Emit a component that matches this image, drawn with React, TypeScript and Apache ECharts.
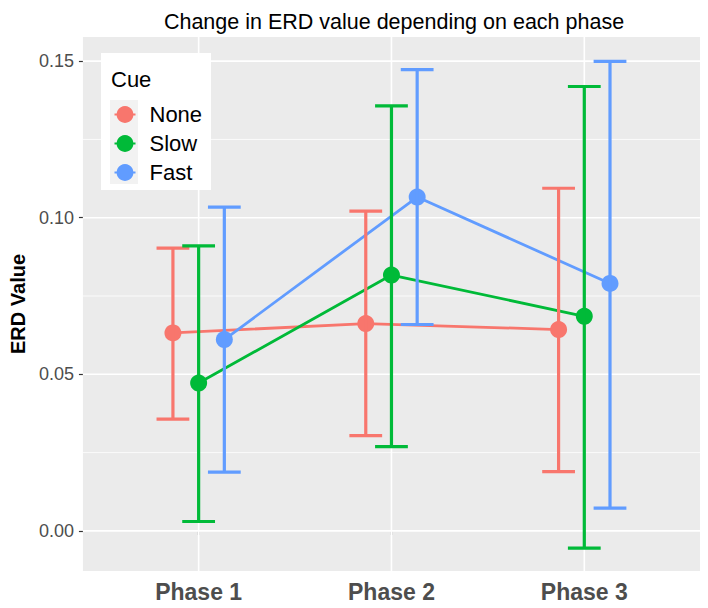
import React, { useEffect, useRef } from "react";
import * as echarts from "echarts";

const phases = ["Phase 1", "Phase 2", "Phase 3"];
const cues = ["None", "Slow", "Fast"];
const noneMean = [0.0632, 0.0662, 0.0643];
const noneLower = [0.0357, 0.0304, 0.0189];
const noneUpper = [0.0903, 0.1021, 0.1094];
const slowMean = [0.0472, 0.0817, 0.0685];
const slowLower = [0.003, 0.0269, -0.0055];
const slowUpper = [0.091, 0.1357, 0.1419];
const fastMean = [0.0611, 0.1066, 0.079];
const fastLower = [0.0188, 0.0659, 0.0073];
const fastUpper = [0.1034, 0.1473, 0.1499];
const yTicks = [0, 0.05, 0.1, 0.15];
const yMinor = [0.025, 0.075, 0.125];

const colors = ["#F8766D", "#00BA38", "#619CFF"];
const dodge = [-0.1333, 0, 0.1333];
const capHalf = 0.085;
const FONT = "'Liberation Sans', Arial, Helvetica, sans-serif";

export default function App() {
  const ref = useRef<HTMLDivElement>(null);
  useEffect(() => {
    if (!ref.current) return;
    const chart = echarts.init(ref.current, null, { renderer: "svg" });
    const groups = [
      { mean: noneMean, lo: noneLower, hi: noneUpper },
      { mean: slowMean, lo: slowLower, hi: slowUpper },
      { mean: fastMean, lo: fastLower, hi: fastUpper },
    ];
    const gridData: number[][] = [
      ...yTicks.map((v) => [1, v, 0]),
      ...yMinor.map((v) => [1, v, 1]),
      ...phases.map((_, i) => [i + 1, 0, 2]),
    ];
    const series: any[] = [
      {
        type: "custom",
        name: "grid",
        z: 1,
        silent: true,
        data: gridData,
        encode: { x: 0, y: 1 },
        renderItem: (params: any, api: any) => {
          const cs = params.coordSys;
          const kind = api.value(2);
          if (kind === 2) {
            const x = api.coord([api.value(0), 0])[0];
            return {
              type: "line",
              shape: { x1: x, y1: cs.y, x2: x, y2: cs.y + cs.height },
              style: { stroke: "#FFFFFF", lineWidth: 1.6 },
            };
          }
          const y = api.coord([1, api.value(1)])[1];
          return {
            type: "line",
            shape: { x1: cs.x, y1: y, x2: cs.x + cs.width, y2: y },
            style: { stroke: "#FFFFFF", lineWidth: kind === 0 ? 1.6 : 0.8 },
          };
        },
      },
    ];
    groups.forEach((g, gi) => {
      series.push({
        type: "line",
        name: cues[gi],
        z: 2,
        data: phases.map((_, i) => [i + 1 + dodge[gi], g.mean[i]]),
        symbol: "circle",
        symbolSize: 17,
        showAllSymbol: true,
        itemStyle: { color: colors[gi] },
        lineStyle: { color: colors[gi], width: 2.8 },
      });
    });
    groups.forEach((g, gi) => {
      series.push({
        type: "custom",
        name: cues[gi] + " error",
        z: 3,
        silent: true,
        data: phases.map((_, i) => [i + 1 + dodge[gi], g.lo[i], g.hi[i]]),
        encode: { x: 0, y: [1, 2] },
        renderItem: (params: any, api: any) => {
          const x = api.value(0);
          const lo = api.value(1);
          const hi = api.value(2);
          const pLo = api.coord([x, lo]);
          const pHi = api.coord([x, hi]);
          const l = api.coord([x - capHalf, lo])[0];
          const r = api.coord([x + capHalf, lo])[0];
          const st = { stroke: colors[gi], lineWidth: 3.2 };
          return {
            type: "group",
            children: [
              { type: "line", shape: { x1: pLo[0], y1: pLo[1], x2: pHi[0], y2: pHi[1] }, style: st },
              { type: "line", shape: { x1: l, y1: pHi[1], x2: r, y2: pHi[1] }, style: st },
              { type: "line", shape: { x1: l, y1: pLo[1], x2: r, y2: pLo[1] }, style: st },
            ],
          };
        },
      });
    });

    chart.setOption({
      animation: false,
      backgroundColor: "#FFFFFF",
      title: {
        text: "Change in ERD value depending on each phase",
        left: 389,
        top: 6,
        textAlign: "center",
        textStyle: { fontFamily: FONT, fontSize: 21.5, fontWeight: "normal", color: "#000000" },
      },
      grid: {
        left: 82,
        right: 8,
        top: 37,
        bottom: 37,
        show: true,
        backgroundColor: "#EBEBEB",
        borderWidth: 0,
      },
      xAxis: {
        type: "value",
        min: 0.4,
        max: 3.6,
        axisLine: { show: false },
        splitLine: { show: false },
        axisTick: { show: true, length: 4, customValues: [1, 2, 3], lineStyle: { color: "#333333", width: 1.2 } },
        axisLabel: {
          customValues: [1, 2, 3],
          formatter: (v: number) => phases[Math.round(v) - 1] ?? "",
          fontFamily: FONT,
          fontSize: 23,
          fontWeight: "bold",
          color: "#4D4D4D",
          margin: 9,
        },
      },
      yAxis: {
        type: "value",
        min: -0.0128,
        max: 0.1577,
        minInterval: 0.05,
        maxInterval: 0.05,
        name: "ERD Value",
        nameLocation: "middle",
        nameGap: 45,
        nameTextStyle: { fontFamily: FONT, fontSize: 20, fontWeight: "bold", color: "#000000" },
        axisLine: { show: false },
        splitLine: { show: false },
        axisTick: { show: true, length: 4, customValues: yTicks, lineStyle: { color: "#333333", width: 1.2 } },
        axisLabel: {
          customValues: yTicks,
          formatter: (v: number) => v.toFixed(2),
          fontFamily: FONT,
          fontSize: 18,
          color: "#4D4D4D",
          margin: 9,
        },
      },
      legend: {
        data: cues,
        orient: "vertical",
        left: 113.5,
        top: 103.5,
        padding: 0,
        itemWidth: 21,
        itemHeight: 21,
        itemGap: 7,
        z: 10,
        textStyle: { fontFamily: FONT, fontSize: 22, color: "#000000", lineHeight: 21, padding: [0, 0, 0, 9] },
      },
      graphic: [
        { type: "rect", z: 5, shape: { x: 101, y: 53, width: 110, height: 137 }, style: { fill: "#FFFFFF" } },
        { type: "rect", z: 6, shape: { x: 110, y: 100, width: 28, height: 84 }, style: { fill: "#F2F2F2" } },
        {
          type: "text",
          z: 7,
          x: 111,
          y: 79,
          style: { text: "Cue", fontFamily: FONT, fontSize: 22, fill: "#000000", verticalAlign: "middle" },
        },
      ],
      series,
    });
    return () => chart.dispose();
  }, []);
  return <div ref={ref} style={{ position: "fixed", left: 0, top: 0, width: 708, height: 608 }} />;
}
